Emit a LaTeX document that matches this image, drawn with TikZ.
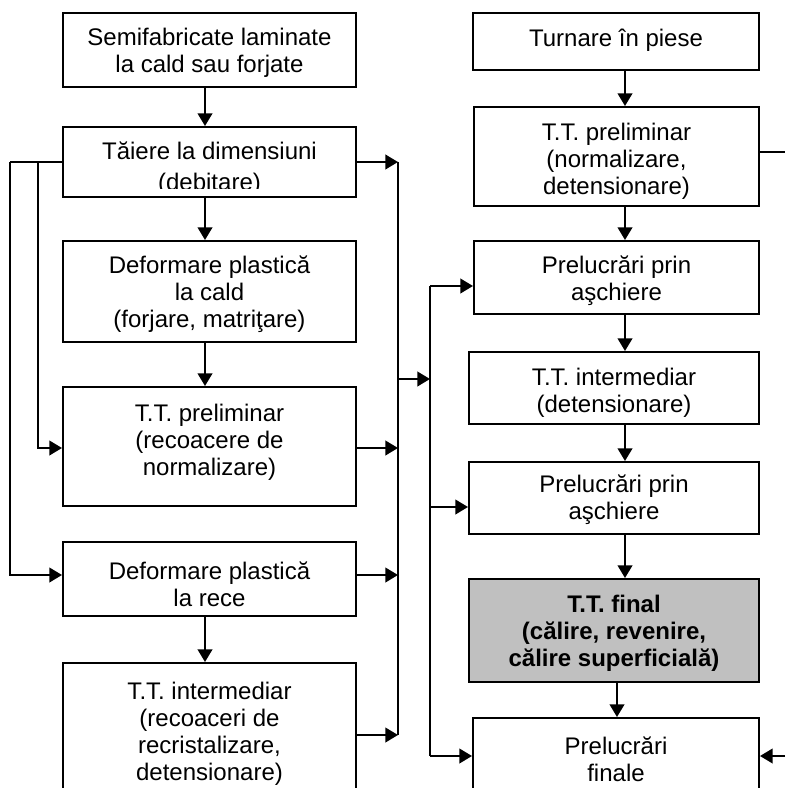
\documentclass[tikz,border=0pt]{standalone}
\usepackage{fontspec}
\setmainfont{Liberation Sans}
\usetikzlibrary{arrows.meta,calc}
\definecolor{finalgray}{RGB}{192,192,192}
\begin{document}
\begin{tikzpicture}[x=0.75pt,y=-0.75pt,
  box/.style n args={2}{draw, line width=1.5pt, inner sep=0pt,
     minimum width=#1*0.75pt, minimum height=#2*0.75pt},
  txt/.style={font=\fontsize{18}{20.25}\selectfont, align=center, inner sep=0pt},
  ln/.style={line width=1.5pt},
  arr/.style={line width=1.5pt, -{Triangle[length=9.5pt,width=11pt]}}]
\useasboundingbox (0,0) rectangle (785,788);
\clip (0,0) rectangle (785,788);

% left column boxes
\node[box={293}{74}]  (b1) at (209.5,50) {};
\node[box={293}{70}]  (b2) at (209.5,162) {};
\node[box={293}{101}] (b3) at (209.5,291.5) {};
\node[box={293}{119}] (b4) at (209.5,446.5) {};
\node[box={293}{74}]  (b5) at (209.5,579) {};
\node[box={293}{152}] (b6) at (209.5,739) {};

% right column boxes
\node[box={286}{57}]  (r1) at (616,41.5) {};
\node[box={285}{99}]  (r2) at (616.5,156.5) {};
\node[box={285}{73}]  (r3) at (616.5,277.5) {};
\node[box={290}{72}]  (r4) at (614,388) {};
\node[box={290}{72}]  (r5) at (614,498) {};
\node[box={290}{103},fill=finalgray] (r6) at (614,630.5) {};
\node[box={286}{112}] (r7) at (616,774) {};

% texts
\node[txt] (t1) at (209.5,53) {Semifabricate laminate\\la cald sau forjate};
\begin{scope}
  \clip (63,127) rectangle (356,188.5);
  \node[txt] (t2) at (209.5,169) {Tăiere la dimensiuni\\[3pt](debitare)};
\end{scope}
\node[txt] (t3) at (209.5,294) {Deformare plastică\\la cald\\(forjare, matriţare)};
\node[txt] (t4) at (209.5,442) {T.T. preliminar\\(recoacere de\\normalizare)};
\node[txt] (t5) at (209.5,584) {Deformare plastică\\la rece};
\node[txt] (t6) at (209.5,734) {T.T. intermediar\\(recoaceri de\\recristalizare,\\detensionare)};

\node[txt] (s1) at (616,40) {Turnare în piese};
\node[txt] (s2) at (616.5,161) {T.T. preliminar\\(normalizare,\\detensionare)};
\node[txt] (s3) at (616.5,281) {Prelucrări prin\\aşchiere};
\node[txt] (s4) at (614,393) {T.T. intermediar\\(detensionare)};
\node[txt] (s5) at (614,500) {Prelucrări prin\\aşchiere};
\node[txt,font=\fontsize{18}{20.25}\selectfont\bfseries] (s6) at (614,633) {T.T. final\\(călire, revenire,\\călire superficială)};
\node[txt] (s7) at (616,759.5) {Prelucrări\\finale};

% helper coordinates
\coordinate (lx) at (205,0);
\coordinate (rx) at (625,0);
\coordinate (rx2) at (617,0);
\coordinate (v1) at (398,162);
\coordinate (v1b) at (398,735);
\coordinate (v2) at (430,286);
\coordinate (v2b) at (430,756);
\coordinate (ol) at (10,162);
\coordinate (il) at (38,162);
\coordinate (redge) at (785,152);
\coordinate (redge2) at (785,756);

% left vertical flow
\draw[arr] (b1.south -| lx) -- (b2.north -| lx);
\draw[arr] (b2.south -| lx) -- (b3.north -| lx);
\draw[arr] (b3.south -| lx) -- (b4.north -| lx);
\draw[arr] (b5.south -| lx) -- (b6.north -| lx);

% left bypass lines
\draw[ln] (b2.west |- ol) -- (ol);
\draw[arr] (ol) -- (ol |- 0,575) -- (b5.west |- 0,575);
\draw[arr] (il) -- (il |- 0,448) -- (b4.west |- 0,448);

% arrows to the collector line
\draw[arr] (b2.east |- v1) -- (v1);
\draw[arr] (b4.east |- 0,448) -- (398,448);
\draw[arr] (b5.east |- 0,575) -- (398,575);
\draw[arr] (b6.east |- v1b) -- (v1b);
\draw[ln] (v1) -- (v1b);
\draw[arr] (398,379) -- (430,379);
\draw[ln] (v2) -- (v2b);
\draw[arr] (v2) -- (r3.west |- v2);
\draw[arr] (430,507) -- (r5.west |- 0,507);
\draw[arr] (v2b) -- (r7.west |- v2b);

% right vertical flow
\draw[arr] (r1.south -| rx) -- (r2.north -| rx);
\draw[arr] (r2.south -| rx) -- (r3.north -| rx);
\draw[arr] (r3.south -| rx) -- (r4.north -| rx);
\draw[arr] (r4.south -| rx) -- (r5.north -| rx);
\draw[arr] (r5.south -| rx) -- (r6.north -| rx);
\draw[arr] (r6.south -| rx2) -- (r7.north -| rx2);

% right edge lines
\draw[ln] (r2.east |- redge) -- (redge);
\draw[arr] (redge2) -- (r7.east |- redge2);
\end{tikzpicture}
\end{document}
